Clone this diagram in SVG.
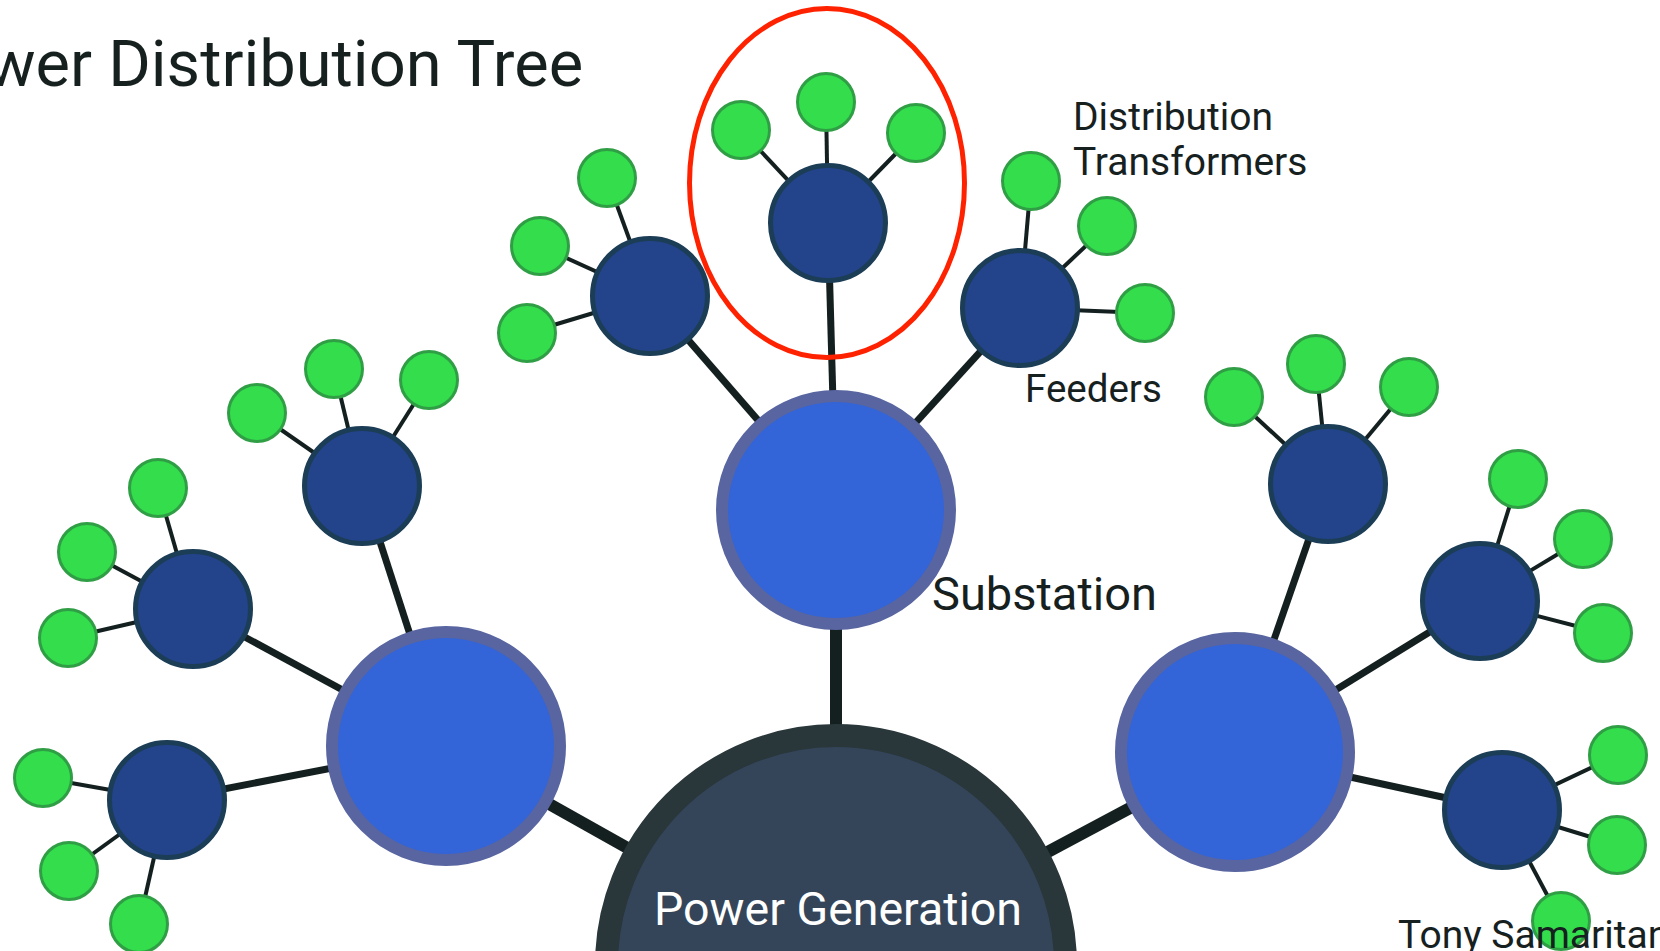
<svg xmlns="http://www.w3.org/2000/svg" width="1660" height="951" viewBox="0 0 1660 951">
<style>
.txt{font-family:Roboto,"Liberation Sans",sans-serif;fill:#16211f}
.gen{fill:#34455a;stroke:#29363a;stroke-width:23}
.sub{fill:#3364d8;stroke:#5865a0;stroke-width:12}
.fdr{fill:#23438a;stroke:#1c3d56;stroke-width:5}
.dt{fill:#33dd4c;stroke:#2f9e45;stroke-width:3}
.c1{stroke:#13201f;stroke-width:12}
.c2{stroke:#13201f;stroke-width:7}
.c3{stroke:#13201f;stroke-width:4}
</style>
<rect width="1660" height="951" fill="#ffffff"/>
<text id="title" class="txt" x="-91" y="86" font-size="65">Power Distribution Tree</text>
<g id="connectors">
<line class="c1" x1="836" y1="965" x2="446" y2="746"/>
<line class="c1" x1="836" y1="965" x2="836" y2="510"/>
<line class="c1" x1="836" y1="965" x2="1235" y2="752"/>
<line class="c2" x1="836" y1="510" x2="650" y2="296"/>
<line class="c2" x1="836" y1="510" x2="828" y2="223"/>
<line class="c2" x1="836" y1="510" x2="1020" y2="308"/>
<line class="c2" x1="446" y1="746" x2="362" y2="486"/>
<line class="c2" x1="446" y1="746" x2="193" y2="609"/>
<line class="c2" x1="446" y1="746" x2="167" y2="800"/>
<line class="c2" x1="1235" y1="752" x2="1328" y2="484"/>
<line class="c2" x1="1235" y1="752" x2="1480" y2="601"/>
<line class="c2" x1="1235" y1="752" x2="1502" y2="810"/>
<line class="c3" x1="828" y1="223" x2="741" y2="130"/>
<line class="c3" x1="828" y1="223" x2="826" y2="102"/>
<line class="c3" x1="828" y1="223" x2="916" y2="133"/>
<line class="c3" x1="650" y1="296" x2="607" y2="178"/>
<line class="c3" x1="650" y1="296" x2="540" y2="246"/>
<line class="c3" x1="650" y1="296" x2="527" y2="333"/>
<line class="c3" x1="1020" y1="308" x2="1031" y2="181"/>
<line class="c3" x1="1020" y1="308" x2="1107" y2="226"/>
<line class="c3" x1="1020" y1="308" x2="1145" y2="313"/>
<line class="c3" x1="362" y1="486" x2="257" y2="413"/>
<line class="c3" x1="362" y1="486" x2="334" y2="369"/>
<line class="c3" x1="362" y1="486" x2="429" y2="380"/>
<line class="c3" x1="193" y1="609" x2="158" y2="488"/>
<line class="c3" x1="193" y1="609" x2="87" y2="552"/>
<line class="c3" x1="193" y1="609" x2="68" y2="638"/>
<line class="c3" x1="167" y1="800" x2="43" y2="778"/>
<line class="c3" x1="167" y1="800" x2="69" y2="871"/>
<line class="c3" x1="167" y1="800" x2="139" y2="924"/>
<line class="c3" x1="1328" y1="484" x2="1234" y2="397"/>
<line class="c3" x1="1328" y1="484" x2="1316" y2="364"/>
<line class="c3" x1="1328" y1="484" x2="1409" y2="387"/>
<line class="c3" x1="1480" y1="601" x2="1518" y2="479"/>
<line class="c3" x1="1480" y1="601" x2="1583" y2="539"/>
<line class="c3" x1="1480" y1="601" x2="1603" y2="633"/>
<line class="c3" x1="1502" y1="810" x2="1618" y2="755"/>
<line class="c3" x1="1502" y1="810" x2="1617" y2="845"/>
<line class="c3" x1="1502" y1="810" x2="1561" y2="921"/>
</g>
<g id="generation"><circle class="gen" cx="836" cy="965" r="229.5"/><text class="txt" x="838" y="925" font-size="46.5" text-anchor="middle" style="fill:#ffffff">Power Generation</text></g>
<g id="sub-left"><circle class="sub" cx="446" cy="746" r="114"/></g>
<g id="sub-top"><circle class="sub" cx="836" cy="510" r="114"/></g>
<g id="sub-right"><circle class="sub" cx="1235" cy="752" r="114"/></g>
<g id="feeder-t1"><circle class="fdr" cx="650" cy="296" r="57.5"/></g>
<g id="feeder-t2"><circle class="fdr" cx="828" cy="223" r="57.5"/></g>
<g id="feeder-t3"><circle class="fdr" cx="1020" cy="308" r="57.5"/></g>
<g id="feeder-l1"><circle class="fdr" cx="362" cy="486" r="57.5"/></g>
<g id="feeder-l2"><circle class="fdr" cx="193" cy="609" r="57.5"/></g>
<g id="feeder-l3"><circle class="fdr" cx="167" cy="800" r="57.5"/></g>
<g id="feeder-r1"><circle class="fdr" cx="1328" cy="484" r="57.5"/></g>
<g id="feeder-r2"><circle class="fdr" cx="1480" cy="601" r="57.5"/></g>
<g id="feeder-r3"><circle class="fdr" cx="1502" cy="810" r="57.5"/></g>
<g id="dt-t2"><circle class="dt" cx="741" cy="130" r="28.5"/><circle class="dt" cx="826" cy="102" r="28.5"/><circle class="dt" cx="916" cy="133" r="28.5"/></g>
<g id="dt-t1"><circle class="dt" cx="607" cy="178" r="28.5"/><circle class="dt" cx="540" cy="246" r="28.5"/><circle class="dt" cx="527" cy="333" r="28.5"/></g>
<g id="dt-t3"><circle class="dt" cx="1031" cy="181" r="28.5"/><circle class="dt" cx="1107" cy="226" r="28.5"/><circle class="dt" cx="1145" cy="313" r="28.5"/></g>
<g id="dt-l1"><circle class="dt" cx="257" cy="413" r="28.5"/><circle class="dt" cx="334" cy="369" r="28.5"/><circle class="dt" cx="429" cy="380" r="28.5"/></g>
<g id="dt-l2"><circle class="dt" cx="158" cy="488" r="28.5"/><circle class="dt" cx="87" cy="552" r="28.5"/><circle class="dt" cx="68" cy="638" r="28.5"/></g>
<g id="dt-l3"><circle class="dt" cx="43" cy="778" r="28.5"/><circle class="dt" cx="69" cy="871" r="28.5"/><circle class="dt" cx="139" cy="924" r="28.5"/></g>
<g id="dt-r1"><circle class="dt" cx="1234" cy="397" r="28.5"/><circle class="dt" cx="1316" cy="364" r="28.5"/><circle class="dt" cx="1409" cy="387" r="28.5"/></g>
<g id="dt-r2"><circle class="dt" cx="1518" cy="479" r="28.5"/><circle class="dt" cx="1583" cy="539" r="28.5"/><circle class="dt" cx="1603" cy="633" r="28.5"/></g>
<g id="dt-r3"><circle class="dt" cx="1618" cy="755" r="28.5"/><circle class="dt" cx="1617" cy="845" r="28.5"/><circle class="dt" cx="1561" cy="921" r="28.5"/></g>
<g id="highlight"><ellipse cx="827" cy="183" rx="137.5" ry="174.5" fill="none" stroke="#ff2200" stroke-width="5"/></g>
<g id="labels">
<text class="txt" x="1073" y="130" font-size="39">Distribution</text>
<text class="txt" x="1073" y="175" font-size="39">Transformers</text>
<text class="txt" x="1025" y="402" font-size="38.5">Feeders</text>
<text class="txt" x="932" y="610" font-size="47">Substation</text>
<text class="txt" x="1398" y="948" font-size="39">Tony Samaritan</text>
</g>
</svg>
